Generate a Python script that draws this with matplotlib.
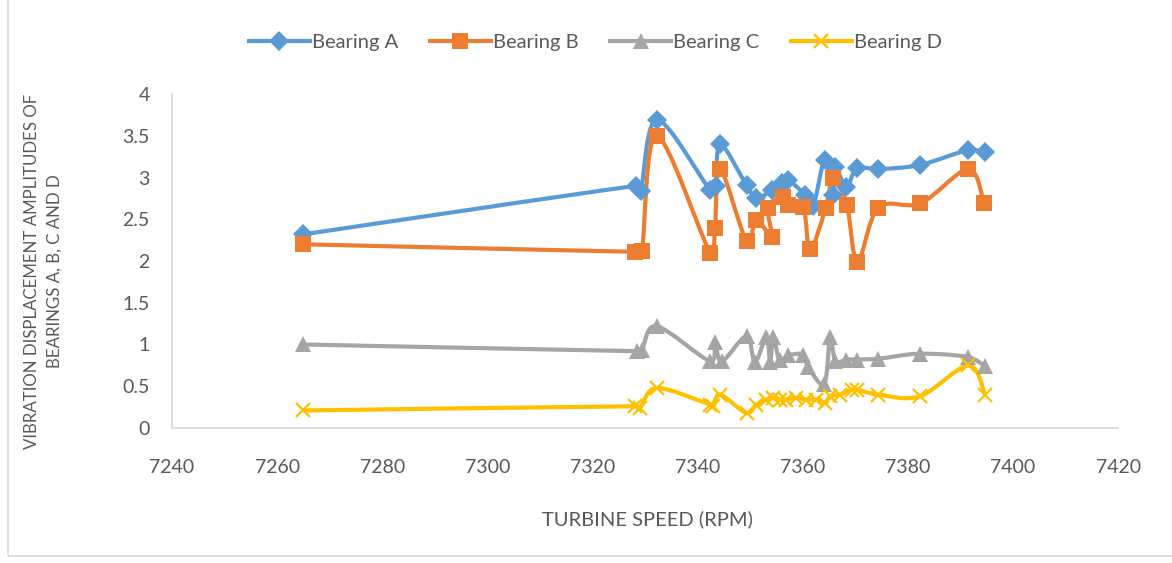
import numpy as np
import matplotlib.pyplot as plt
from matplotlib.path import Path
from matplotlib.patches import PathPatch, Rectangle
from matplotlib.ticker import FuncFormatter

# ---------------- data ----------------
rpm_a = [7265, 7328.3, 7329.2, 7332.3, 7342.4, 7343.5, 7344.3, 7349.3, 7351.2, 7354.1,
         7356.0, 7357.2, 7360.5, 7362.0, 7364.2, 7365.8, 7366.1, 7368.3, 7370.3, 7374.3,
         7382.3, 7391.5, 7394.7]
vib_a = [2.32, 2.90, 2.84, 3.69, 2.85, 2.90, 3.40, 2.91, 2.75, 2.85,
         2.93, 2.97, 2.79, 2.66, 3.21, 2.79, 3.13, 2.89, 3.11, 3.10,
         3.15, 3.33, 3.30]

rpm_b = [7265, 7328.1, 7329.4, 7332.2, 7342.4, 7343.3, 7344.3, 7349.3, 7351.2, 7354.1,
         7353.4, 7356.3, 7357.2, 7360.1, 7361.4, 7364.4, 7365.8, 7368.4, 7370.4, 7374.4,
         7382.4, 7391.5, 7394.5]
vib_b = [2.20, 2.11, 2.12, 3.50, 2.10, 2.39, 3.10, 2.24, 2.49, 2.29,
         2.64, 2.77, 2.67, 2.65, 2.14, 2.64, 3.00, 2.67, 1.99, 2.64,
         2.69, 3.10, 2.69]

rpm_c = [7265, 7328.4, 7329.4, 7332.2, 7342.4, 7343.3, 7344.6, 7349.3, 7350.9, 7353.1,
         7353.8, 7354.4, 7355.6, 7357.2, 7360.1, 7361.0, 7364.1, 7365.2, 7366.2, 7368.3,
         7370.3, 7374.4, 7382.3, 7391.5, 7394.7]
vib_c = [1.00, 0.92, 0.93, 1.22, 0.80, 1.03, 0.80, 1.10, 0.79, 1.09,
         0.79, 1.09, 0.81, 0.87, 0.88, 0.73, 0.53, 1.09, 0.80, 0.82,
         0.82, 0.83, 0.89, 0.85, 0.74]

rpm_d = [7265, 7328.1, 7329.0, 7332.2, 7342.4, 7343.0, 7344.3, 7349.3, 7351.2, 7353.1,
         7354.4, 7355.6, 7356.9, 7358.8, 7360.7, 7362.6, 7364.3, 7365.2, 7367.1, 7369.3,
         7370.3, 7374.4, 7382.3, 7391.5, 7394.7]
vib_d = [0.21, 0.26, 0.24, 0.48, 0.28, 0.26, 0.40, 0.18, 0.28, 0.34,
         0.36, 0.34, 0.34, 0.36, 0.34, 0.34, 0.30, 0.38, 0.40, 0.46,
         0.46, 0.40, 0.38, 0.75, 0.40]

names = ['Bearing A', 'Bearing B', 'Bearing C', 'Bearing D']
colors = ['#5B9BD5', '#ED7D31', '#A5A5A5', '#FFC000']
markers = ['D', 's', '^', 'x']
msizes = [10, 12, 11, 10]

x_ticks = list(range(7240, 7421, 20))
y_ticks = [0, 0.5, 1, 1.5, 2, 2.5, 3, 3.5, 4]

plt.rcParams['font.family'] = ['Lato', 'DejaVu Sans']
txt = '#595959'

fig = plt.figure(figsize=(11.72, 5.63), dpi=100)
ax = fig.add_axes([0.1468, 0.2398, 0.8072, 0.5932])
ax.set_xlim(7240, 7420)
ax.set_ylim(0, 4)
fig.canvas.draw()


def smooth_path(xs, ys):
    # smoothed line like Excel: catmull-rom bezier in screen space,
    # handles capped so short segments next to long ones don't loop
    pts = ax.transData.transform(np.column_stack([xs, ys]))
    n = len(pts)
    verts = [pts[0]]
    codes = [Path.MOVETO]
    for i in range(n - 1):
        d = np.hypot(*(pts[i + 1] - pts[i]))
        h1 = (pts[i + 1] - pts[max(i - 1, 0)]) / 6.0
        h2 = (pts[min(i + 2, n - 1)] - pts[i]) / 6.0
        for h in (h1, h2):
            L = np.hypot(*h)
            if L > 0.4 * d:
                h *= 0.4 * d / L
        verts += [pts[i] + h1, pts[i + 1] - h2, pts[i + 1]]
        codes += [Path.CURVE4] * 3
    verts = ax.transData.inverted().transform(np.array(verts))
    return Path(verts, codes)


series = [(rpm_a, vib_a), (rpm_b, vib_b), (rpm_c, vib_c), (rpm_d, vib_d)]
for (xs, ys), name, col, mk, ms in zip(series, names, colors, markers, msizes):
    ax.add_patch(PathPatch(smooth_path(xs, ys), fill=False, edgecolor=col,
                           lw=3.0, capstyle='round', joinstyle='round', zorder=2))
    ax.plot(xs, ys, ls='none', marker=mk, ms=ms, color=col,
            mec=col, mew=1.6 if mk == 'x' else 0, zorder=3)
    ax.plot([], [], color=col, lw=3.0, marker=mk, ms=ms,
            mew=1.6 if mk == 'x' else 0, label=name)

ax.set_xticks(x_ticks)
ax.set_yticks(y_ticks)
ax.yaxis.set_major_formatter(FuncFormatter(lambda v, p: '%g' % v))
ax.tick_params(length=0, labelsize=14, colors=txt)
ax.tick_params(axis='x', pad=22)
ax.tick_params(axis='y', pad=16)
for s in ['top', 'right']:
    ax.spines[s].set_visible(False)
for s in ['left', 'bottom']:
    ax.spines[s].set_color('#D9D9D9')
    ax.spines[s].set_linewidth(1.2)

ax.set_xlabel('TURBINE SPEED (RPM)', fontsize=14.5, color=txt)
ax.xaxis.set_label_coords(0.502, -0.245)
ax.set_ylabel('VIBRATION DISPLACEMENT AMPLITUDES OF\nBEARINGS A, B, C AND D',
              fontsize=12.2, color=txt, linespacing=1.5)
ax.yaxis.set_label_coords(-0.116, 0.47)

fig.legend(loc='center', bbox_to_anchor=(0.508, 0.924), ncol=4, frameon=False,
           fontsize=14.5, labelcolor=txt, handlelength=3.0, handletextpad=0.1,
           columnspacing=1.6)

# chart area border
fig.patches.append(Rectangle((0.007, 0.012), 1.2, 1.2, transform=fig.transFigure,
                             fill=False, edgecolor='#D9D9D9', lw=1.2))

fig.savefig('out.png', dpi=100)
